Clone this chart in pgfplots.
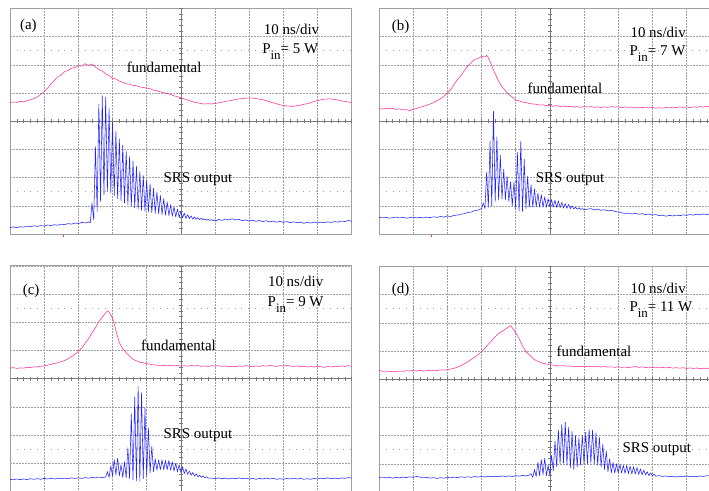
\documentclass[border=0pt]{standalone}
\usepackage{pgfplots}
\pgfplotsset{compat=1.18}
\usepackage{fontspec}
\setmainfont{Liberation Serif}
\definecolor{trpink}{RGB}{255,45,150}
\definecolor{trblue}{RGB}{35,35,255}
\definecolor{gridc}{RGB}{160,160,160}
\definecolor{cgrid}{RGB}{120,120,120}
\tikzset{cline/.style={cgrid, line width=0.6pt},
  sparse/.style={gridc, line width=0.8pt, dash pattern=on 0.8pt off 6.03pt},
  lab/.style={font=\fontsize{15}{18}\selectfont, inner sep=0pt}}
\pgfplotsset{osc/.style={anchor=south west, width=341.7bp, height=225.6bp, scale only axis,
  xmin=0, xmax=10, ymin=-4, ymax=4, xtick={0,...,10}, ytick={-4,...,4},
  xticklabel=\empty, yticklabel=\empty, major tick length=0pt,
  grid=major, major grid style={gridc, line width=0.5pt, dash pattern=on 0.7pt off 0.8pt},
  axis line style={gridc, line width=0.8pt}, clip=false,
  every axis plot/.append style={line width=0.55pt, line join=round}}}
\newcommand{\oscgrid}{%
  \draw[sparse] (axis cs:0,2.5) -- (axis cs:10,2.5);
  \draw[sparse] (axis cs:0,-2.5) -- (axis cs:10,-2.5);
  \draw[cline] (axis cs:0,0) -- (axis cs:10,0);
  \draw[cline] (axis cs:5,-4) -- (axis cs:5,4);
  \pgfplotsinvokeforeach{0.2,0.4,...,9.9}{\draw[cline] (axis cs:##1,-0.07) -- (axis cs:##1,0.07);}
  \pgfplotsinvokeforeach{-3.8,-3.6,...,3.9}{\draw[cline] (axis cs:4.94,##1) -- (axis cs:5.06,##1);}
}
\newcommand{\pin}[1]{P\raisebox{-6bp}{\fontsize{13}{13}\selectfont in}= #1 W}
\begin{document}
\begin{tikzpicture}
\useasboundingbox (0,0) rectangle (709bp,491bp);
\clip (0,0) rectangle (709bp,491bp);
% ---------------- (a)
\begin{axis}[osc, at={(10bp,257bp)}]
\oscgrid
\addplot[trpink] coordinates {(0.0,0.66) (0.1,0.68) (0.2,0.67) (0.3,0.70) (0.4,0.69) (0.5,0.73) (0.6,0.76) (0.7,0.80) (0.8,0.86) (0.9,0.95) (1.0,1.05) (1.1,1.17) (1.2,1.33) (1.3,1.45) (1.4,1.58) (1.5,1.64) (1.6,1.76) (1.7,1.80) (1.8,1.88) (1.9,1.91) (2.0,1.97) (2.1,1.95) (2.2,2.04) (2.3,1.98) (2.4,2.03) (2.5,1.92) (2.6,1.83) (2.7,1.78) (2.8,1.68) (2.9,1.62) (3.0,1.52) (3.1,1.50) (3.2,1.42) (3.3,1.38) (3.4,1.33) (3.5,1.31) (3.6,1.27) (3.7,1.26) (3.8,1.21) (3.9,1.20) (4.0,1.17) (4.1,1.15) (4.2,1.10) (4.3,1.08) (4.4,1.04) (4.5,1.01) (4.6,0.98) (4.7,0.95) (4.8,0.90) (4.9,0.87) (5.0,0.83) (5.1,0.79) (5.2,0.75) (5.3,0.71) (5.4,0.67) (5.5,0.65) (5.6,0.62) (5.7,0.61) (5.8,0.62) (5.9,0.61) (6.0,0.63) (6.1,0.65) (6.2,0.67) (6.3,0.70) (6.4,0.72) (6.5,0.74) (6.6,0.77) (6.7,0.79) (6.8,0.80) (6.9,0.82) (7.0,0.82) (7.1,0.82) (7.2,0.80) (7.3,0.78) (7.4,0.76) (7.5,0.73) (7.6,0.69) (7.7,0.65) (7.8,0.62) (7.9,0.58) (8.0,0.56) (8.1,0.54) (8.2,0.53) (8.3,0.53) (8.4,0.55) (8.5,0.57) (8.6,0.60) (8.7,0.62) (8.8,0.66) (8.9,0.70) (9.0,0.73) (9.1,0.76) (9.2,0.78) (9.3,0.79) (9.4,0.79) (9.5,0.77) (9.6,0.75) (9.7,0.72) (9.8,0.70) (9.9,0.68) (10.0,0.66)};
\addplot[trblue] coordinates {(0.0,-3.77) (0.1,-3.75) (0.2,-3.78) (0.3,-3.74) (0.4,-3.76) (0.5,-3.72) (0.6,-3.74) (0.7,-3.71) (0.8,-3.73) (0.9,-3.70) (1.0,-3.72) (1.1,-3.68) (1.2,-3.70) (1.3,-3.67) (1.4,-3.69) (1.5,-3.65) (1.6,-3.67) (1.7,-3.63) (1.8,-3.65) (1.9,-3.61) (2.0,-3.63) (2.1,-3.59) (2.2,-3.61) (2.3,-3.57) (2.35,-3.60)
(2.40,-2.9) (2.45,-3.5) (2.50,-0.9) (2.55,-3.2) (2.60,0.6) (2.65,-2.85) (2.70,0.9) (2.75,-2.6) (2.80,0.85) (2.85,-2.5) (2.90,0.45) (2.95,-2.55) (3.00,-0.05) (3.05,-2.65) (3.10,-0.35) (3.15,-2.75) (3.20,-0.62) (3.25,-2.82) (3.30,-0.85) (3.35,-2.9) (3.40,-1.05) (3.45,-2.96) (3.50,-1.25) (3.55,-3.02) (3.60,-1.42) (3.65,-3.07) (3.70,-1.6) (3.75,-3.12) (3.80,-1.78) (3.85,-3.16) (3.90,-1.93) (3.95,-3.19) (4.00,-2.08) (4.05,-3.22) (4.10,-2.22) (4.15,-3.25) (4.20,-2.38) (4.25,-3.27) (4.30,-2.5) (4.35,-3.29) (4.40,-2.63) (4.45,-3.31) (4.50,-2.75) (4.55,-3.33) (4.60,-2.86) (4.65,-3.35) (4.70,-2.96) (4.75,-3.37) (4.80,-3.04) (4.85,-3.39) (4.90,-3.12) (4.95,-3.41) (5.00,-3.2) (5.05,-3.43) (5.10,-3.26) (5.15,-3.45) (5.20,-3.31) (5.25,-3.46) (5.30,-3.36) (5.35,-3.47) (5.40,-3.39) (5.45,-3.48) (5.50,-3.42) (5.55,-3.49) (5.60,-3.44) (5.65,-3.5) (5.70,-3.46) (5.75,-3.51) (5.80,-3.48) (5.85,-3.52) (5.90,-3.49) (5.95,-3.53) (6.00,-3.5) (6.05,-3.54)
(6.1,-3.48) (6.2,-3.52) (6.3,-3.47) (6.4,-3.5) (6.5,-3.46) (6.6,-3.5) (6.7,-3.48) (6.8,-3.53) (6.9,-3.5) (7.0,-3.54) (7.1,-3.51) (7.2,-3.55) (7.3,-3.52) (7.4,-3.56) (7.5,-3.53) (7.6,-3.57) (7.7,-3.54) (7.8,-3.58) (7.9,-3.55) (8.0,-3.59) (8.1,-3.56) (8.2,-3.6) (8.3,-3.57) (8.4,-3.6) (8.5,-3.58) (8.6,-3.62) (8.7,-3.59) (8.8,-3.61) (8.9,-3.58) (9.0,-3.61) (9.1,-3.58) (9.2,-3.6) (9.3,-3.57) (9.4,-3.59) (9.5,-3.56) (9.6,-3.58) (9.7,-3.54) (9.8,-3.56) (9.9,-3.52) (10.0,-3.55)};
\addplot[trpink, line width=0.9pt] coordinates {(1.56,-4.03) (1.56,-4.12)};
\node[lab, anchor=base west] at (axis cs:0.29,3.24) {(a)};
\node[lab, anchor=base] at (axis cs:8.24,3.07) {10 ns/div};
\node[lab, anchor=base] at (axis cs:8.2,2.41) {\pin{5}};
\node[lab, anchor=base] at (axis cs:4.51,1.71) {fundamental};
\node[lab, anchor=base] at (axis cs:5.5,-2.19) {SRS output};
\end{axis}
% ---------------- (b)
\begin{axis}[osc, at={(379bp,257bp)}]
\oscgrid
\addplot[trpink] coordinates {(0.0,0.45) (0.1,0.43) (0.2,0.46) (0.3,0.44) (0.4,0.45) (0.5,0.42) (0.6,0.44) (0.7,0.40) (0.8,0.41) (0.9,0.37) (1.0,0.42) (1.1,0.45) (1.2,0.50) (1.3,0.52) (1.4,0.57) (1.5,0.61) (1.6,0.66) (1.7,0.73) (1.8,0.80) (1.9,0.88) (2.0,1.00) (2.1,1.12) (2.2,1.32) (2.3,1.48) (2.4,1.62) (2.5,1.80) (2.6,1.96) (2.7,2.08) (2.8,2.20) (2.9,2.22) (3.0,2.30) (3.1,2.27) (3.15,2.34) (3.2,2.25) (3.3,1.97) (3.4,1.68) (3.5,1.42) (3.6,1.22) (3.7,1.08) (3.8,0.94) (3.9,0.86) (4.0,0.75) (4.1,0.72) (4.2,0.68) (4.3,0.66) (4.4,0.63) (4.5,0.61) (4.6,0.60) (4.7,0.57) (4.8,0.58) (4.9,0.55) (5.0,0.56) (5.1,0.53) (5.2,0.55) (5.3,0.52) (5.4,0.54) (5.5,0.51) (5.6,0.53) (5.7,0.50) (5.8,0.52) (5.9,0.49) (6.0,0.52) (6.1,0.50) (6.2,0.52) (6.3,0.49) (6.4,0.51) (6.5,0.48) (6.6,0.51) (6.7,0.49) (6.8,0.52) (6.9,0.50) (7.0,0.51) (7.1,0.48) (7.2,0.51) (7.3,0.49) (7.4,0.50) (7.5,0.47) (7.6,0.50) (7.7,0.48) (7.8,0.50) (7.9,0.47) (8.0,0.49) (8.1,0.46) (8.2,0.48) (8.3,0.46) (8.4,0.49) (8.5,0.47) (8.6,0.50) (8.7,0.48) (8.8,0.51) (8.9,0.49) (9.0,0.51) (9.1,0.48) (9.2,0.51) (9.3,0.49) (9.4,0.52) (9.5,0.50) (9.6,0.53) (9.7,0.51) (9.8,0.52) (9.9,0.50) (10.0,0.51)};
\addplot[trblue] coordinates {(0.0,-3.40) (0.1,-3.43) (0.2,-3.41) (0.3,-3.44) (0.4,-3.42) (0.5,-3.40) (0.6,-3.43) (0.7,-3.41) (0.8,-3.44) (0.9,-3.42) (1.0,-3.40) (1.1,-3.43) (1.2,-3.41) (1.3,-3.43) (1.4,-3.40) (1.5,-3.42) (1.6,-3.39) (1.7,-3.41) (1.8,-3.38) (1.9,-3.40) (2.0,-3.36) (2.1,-3.38) (2.2,-3.34) (2.3,-3.33) (2.4,-3.30) (2.5,-3.28) (2.6,-3.24) (2.7,-3.22) (2.8,-3.17) (2.9,-3.15) (3.0,-3.10)
(3.05,-2.9) (3.10,-3.1) (3.15,-1.8) (3.20,-3.05) (3.25,-0.7) (3.30,-3.0) (3.35,0.35) (3.40,-2.85) (3.45,-0.55) (3.50,-2.8) (3.55,-1.2) (3.60,-2.76) (3.65,-1.7) (3.70,-2.78) (3.75,-1.95) (3.80,-2.85) (3.85,-2.15) (3.90,-3.0) (3.95,-2.15) (4.00,-3.1) (4.05,-1.1) (4.10,-3.2) (4.15,-0.7) (4.20,-3.2) (4.25,-1.35) (4.30,-3.1) (4.35,-1.95) (4.40,-3.05) (4.45,-2.25) (4.50,-3.05) (4.55,-2.4) (4.60,-3.05) (4.65,-2.55) (4.70,-3.05) (4.75,-2.6) (4.80,-3.05) (4.85,-2.68) (4.90,-3.05) (4.95,-2.75) (5.00,-3.03) (5.05,-2.78) (5.10,-3.05) (5.15,-2.8) (5.20,-3.06) (5.25,-2.82) (5.30,-3.07) (5.35,-2.88) (5.40,-3.08) (5.45,-2.92) (5.50,-3.09) (5.55,-2.95) (5.60,-3.1) (5.65,-3.0) (5.70,-3.11) (5.75,-3.05) (5.80,-3.12) (5.85,-3.07) (5.90,-3.13) (5.95,-3.1) (6.00,-3.14)
(6.1,-3.12) (6.2,-3.1) (6.3,-3.14) (6.4,-3.12) (6.5,-3.16) (6.6,-3.14) (6.7,-3.18) (6.8,-3.16) (6.9,-3.2) (7.0,-3.22) (7.1,-3.25) (7.2,-3.27) (7.3,-3.26) (7.4,-3.29) (7.5,-3.27) (7.6,-3.30) (7.7,-3.28) (7.8,-3.31) (7.9,-3.29) (8.0,-3.33) (8.1,-3.31) (8.2,-3.35) (8.3,-3.33) (8.4,-3.37) (8.5,-3.34) (8.6,-3.36) (8.7,-3.33) (8.8,-3.35) (8.9,-3.32) (9.0,-3.34) (9.1,-3.31) (9.2,-3.33) (9.3,-3.30) (9.4,-3.32) (9.5,-3.29) (9.6,-3.31) (9.7,-3.28) (9.8,-3.30) (9.9,-3.28) (10.0,-3.29)};
\addplot[trpink, line width=0.9pt] coordinates {(1.54,-4.03) (1.54,-4.12)};
\node[lab, anchor=base west] at (axis cs:0.37,3.21) {(b)};
\node[lab, anchor=base] at (axis cs:8.17,2.98) {10 ns/div};
\node[lab, anchor=base] at (axis cs:8.15,2.33) {\pin{7}};
\node[lab, anchor=base] at (axis cs:5.44,0.97) {fundamental};
\node[lab, anchor=base] at (axis cs:5.59,-2.19) {SRS output};
\end{axis}
% ---------------- (c)
\begin{axis}[osc, at={(10bp,-0.4bp)}]
\oscgrid
\addplot[trpink] coordinates {(0.0,0.37) (0.1,0.39) (0.2,0.36) (0.3,0.38) (0.4,0.37) (0.5,0.40) (0.6,0.39) (0.7,0.42) (0.8,0.41) (0.9,0.44) (1.0,0.45) (1.1,0.48) (1.2,0.50) (1.3,0.54) (1.4,0.56) (1.5,0.60) (1.6,0.64) (1.7,0.70) (1.8,0.78) (1.9,0.86) (2.0,0.97) (2.1,1.08) (2.2,1.25) (2.3,1.42) (2.4,1.62) (2.5,1.80) (2.6,2.02) (2.7,2.18) (2.8,2.33) (2.85,2.40) (2.9,2.36) (3.0,2.15) (3.05,1.95) (3.1,1.70) (3.15,1.48) (3.2,1.28) (3.3,1.06) (3.4,0.92) (3.5,0.80) (3.6,0.68) (3.7,0.63) (3.8,0.58) (3.9,0.56) (4.0,0.53) (4.1,0.51) (4.2,0.49) (4.3,0.48) (4.4,0.46) (4.5,0.47) (4.6,0.45) (4.7,0.47) (4.8,0.45) (4.9,0.47) (5.0,0.44) (5.1,0.46) (5.2,0.44) (5.3,0.47) (5.4,0.45) (5.5,0.46) (5.6,0.43) (5.7,0.45) (5.8,0.43) (5.9,0.46) (6.0,0.44) (6.1,0.46) (6.2,0.43) (6.3,0.45) (6.4,0.42) (6.5,0.44) (6.6,0.42) (6.7,0.45) (6.8,0.43) (6.9,0.46) (7.0,0.44) (7.1,0.42) (7.2,0.45) (7.3,0.43) (7.4,0.46) (7.5,0.44) (7.6,0.47) (7.7,0.45) (7.8,0.43) (7.9,0.46) (8.0,0.44) (8.1,0.47) (8.2,0.45) (8.3,0.43) (8.4,0.45) (8.5,0.42) (8.6,0.44) (8.7,0.41) (8.8,0.43) (8.9,0.41) (9.0,0.44) (9.1,0.42) (9.2,0.40) (9.3,0.43) (9.4,0.41) (9.5,0.44) (9.6,0.42) (9.7,0.45) (9.8,0.43) (9.9,0.46) (10.0,0.44)};
\addplot[trblue] coordinates {(0.0,-3.57) (0.1,-3.59) (0.2,-3.56) (0.3,-3.58) (0.4,-3.56) (0.5,-3.58) (0.6,-3.55) (0.7,-3.57) (0.8,-3.55) (0.9,-3.57) (1.0,-3.54) (1.1,-3.56) (1.2,-3.54) (1.3,-3.56) (1.4,-3.53) (1.5,-3.55) (1.6,-3.53) (1.7,-3.55) (1.8,-3.52) (1.9,-3.54) (2.0,-3.52) (2.1,-3.54) (2.2,-3.51) (2.3,-3.53) (2.4,-3.50) (2.5,-3.52) (2.6,-3.49) (2.7,-3.51) (2.8,-3.49)
(2.85,-3.3) (2.90,-3.5) (2.95,-3.1) (3.00,-3.45) (3.05,-2.87) (3.10,-3.42) (3.15,-2.82) (3.20,-3.45) (3.25,-3.05) (3.30,-3.5) (3.35,-2.95) (3.40,-3.52) (3.45,-2.45) (3.50,-3.55) (3.55,-1.25) (3.60,-3.6) (3.65,-0.65) (3.70,-3.62) (3.75,-0.28) (3.80,-3.65) (3.85,-0.5) (3.90,-3.55) (3.95,-1.05) (4.00,-3.45) (4.05,-1.75) (4.10,-3.35) (4.15,-2.4) (4.20,-3.3) (4.25,-2.85) (4.30,-3.25) (4.35,-2.88) (4.40,-3.23) (4.45,-2.88) (4.50,-3.23) (4.55,-2.9) (4.60,-3.23) (4.65,-2.9) (4.70,-3.25) (4.75,-2.95) (4.80,-3.28) (4.85,-3.0) (4.90,-3.3) (4.95,-3.05) (5.00,-3.33) (5.05,-3.12) (5.10,-3.37) (5.15,-3.2) (5.20,-3.4) (5.25,-3.28) (5.30,-3.43) (5.35,-3.33) (5.40,-3.46) (5.45,-3.38) (5.50,-3.48) (5.55,-3.42) (5.60,-3.5) (5.65,-3.45) (5.70,-3.52) (5.75,-3.48) (5.80,-3.53)
(5.9,-3.53) (6.0,-3.55) (6.1,-3.52) (6.2,-3.55) (6.3,-3.53) (6.4,-3.56) (6.5,-3.53) (6.6,-3.55) (6.7,-3.52) (6.8,-3.55) (6.9,-3.53) (7.0,-3.56) (7.1,-3.54) (7.2,-3.57) (7.3,-3.54) (7.4,-3.56) (7.5,-3.53) (7.6,-3.56) (7.7,-3.54) (7.8,-3.57) (7.9,-3.55) (8.0,-3.57) (8.1,-3.54) (8.2,-3.56) (8.3,-3.53) (8.4,-3.56) (8.5,-3.54) (8.6,-3.57) (8.7,-3.55) (8.8,-3.57) (8.9,-3.54) (9.0,-3.56) (9.1,-3.53) (9.2,-3.55) (9.3,-3.52) (9.4,-3.55) (9.5,-3.53) (9.6,-3.55) (9.7,-3.52) (9.8,-3.54) (9.9,-3.51) (10.0,-3.53)};
\node[lab, anchor=base west] at (axis cs:0.37,2.98) {(c)};
\node[lab, anchor=base] at (axis cs:8.36,3.25) {10 ns/div};
\node[lab, anchor=base] at (axis cs:8.36,2.57) {\pin{9}};
\node[lab, anchor=base] at (axis cs:4.93,1.0) {fundamental};
\node[lab, anchor=base] at (axis cs:5.5,-2.13) {SRS output};
\end{axis}
% ---------------- (d)
\begin{axis}[osc, at={(379bp,-1bp)}]
\oscgrid
\addplot[trpink] coordinates {(0.0,0.32) (0.1,0.28) (0.2,0.29) (0.3,0.27) (0.4,0.28) (0.5,0.26) (0.6,0.29) (0.7,0.28) (0.8,0.30) (0.9,0.29) (1.0,0.31) (1.1,0.29) (1.2,0.31) (1.3,0.29) (1.4,0.30) (1.5,0.32) (1.6,0.30) (1.7,0.31) (1.8,0.33) (1.9,0.32) (2.0,0.34) (2.1,0.36) (2.2,0.39) (2.3,0.43) (2.4,0.48) (2.5,0.55) (2.6,0.62) (2.7,0.70) (2.8,0.78) (2.9,0.87) (3.0,0.98) (3.1,1.10) (3.2,1.24) (3.3,1.37) (3.4,1.50) (3.5,1.62) (3.6,1.70) (3.7,1.78) (3.8,1.86) (3.85,1.90) (3.9,1.82) (4.0,1.65) (4.1,1.44) (4.2,1.18) (4.3,0.98) (4.4,0.86) (4.5,0.74) (4.6,0.66) (4.7,0.61) (4.8,0.56) (4.9,0.54) (5.0,0.51) (5.1,0.50) (5.2,0.48) (5.3,0.47) (5.4,0.48) (5.5,0.46) (5.6,0.47) (5.7,0.45) (5.8,0.46) (5.9,0.44) (6.0,0.46) (6.1,0.44) (6.2,0.46) (6.3,0.44) (6.4,0.45) (6.5,0.43) (6.6,0.45) (6.7,0.43) (6.8,0.44) (6.9,0.42) (7.0,0.44) (7.1,0.42) (7.2,0.43) (7.3,0.41) (7.4,0.43) (7.5,0.45) (7.6,0.42) (7.7,0.44) (7.8,0.41) (7.9,0.43) (8.0,0.41) (8.1,0.43) (8.2,0.40) (8.3,0.42) (8.4,0.40) (8.5,0.42) (8.6,0.39) (8.7,0.41) (8.8,0.39) (8.9,0.41) (9.0,0.38) (9.1,0.40) (9.2,0.38) (9.3,0.40) (9.4,0.37) (9.5,0.39) (9.6,0.38) (9.7,0.40) (9.8,0.38) (9.9,0.39) (10.0,0.38)};
\addplot[trblue] coordinates {(0.0,-3.49) (0.1,-3.47) (0.2,-3.50) (0.3,-3.48) (0.4,-3.51) (0.5,-3.48) (0.6,-3.50) (0.7,-3.47) (0.8,-3.49) (0.9,-3.46) (1.0,-3.48) (1.1,-3.45) (1.2,-3.47) (1.3,-3.50) (1.4,-3.48) (1.5,-3.51) (1.6,-3.49) (1.7,-3.52) (1.8,-3.49) (1.9,-3.51) (2.0,-3.48) (2.1,-3.50) (2.2,-3.47) (2.3,-3.49) (2.4,-3.46) (2.5,-3.48) (2.6,-3.46) (2.7,-3.48) (2.8,-3.45) (2.9,-3.47) (3.0,-3.45) (3.1,-3.47) (3.2,-3.44) (3.3,-3.46) (3.4,-3.44) (3.5,-3.46) (3.6,-3.43) (3.7,-3.45) (3.8,-3.43) (3.9,-3.45) (4.0,-3.42) (4.1,-3.44) (4.2,-3.41) (4.3,-3.43) (4.4,-3.40)
(4.45,-3.35) (4.50,-3.48) (4.55,-3.2) (4.60,-3.45) (4.65,-2.95) (4.70,-3.42) (4.75,-2.85) (4.80,-3.38) (4.85,-2.8) (4.90,-3.42) (4.95,-3.05) (5.00,-3.4) (5.05,-2.7) (5.10,-3.25) (5.15,-2.2) (5.20,-3.1) (5.25,-1.8) (5.30,-3.0) (5.35,-1.6) (5.40,-2.98) (5.45,-1.52) (5.50,-3.05) (5.55,-1.7) (5.60,-3.15) (5.65,-1.85) (5.70,-3.2) (5.75,-2.0) (5.80,-3.12) (5.85,-2.08) (5.90,-3.05) (5.95,-1.98) (6.00,-3.02) (6.05,-1.88) (6.10,-3.0) (6.15,-1.78) (6.20,-2.98) (6.25,-1.8) (6.30,-3.0) (6.35,-1.9) (6.40,-3.05) (6.45,-2.05) (6.50,-3.12) (6.55,-2.3) (6.60,-3.2) (6.65,-2.55) (6.70,-3.28) (6.75,-2.82) (6.80,-3.32) (6.85,-2.95) (6.90,-3.33) (6.95,-3.0) (7.00,-3.33) (7.05,-3.02) (7.10,-3.33) (7.15,-3.05) (7.20,-3.34) (7.25,-3.06) (7.30,-3.35) (7.35,-3.08) (7.40,-3.36) (7.45,-3.1) (7.50,-3.37) (7.55,-3.13) (7.60,-3.38) (7.65,-3.18) (7.70,-3.39) (7.75,-3.22) (7.80,-3.4) (7.85,-3.28) (7.90,-3.42) (7.95,-3.32) (8.00,-3.43) (8.05,-3.36) (8.10,-3.44)
(8.2,-3.42) (8.3,-3.45) (8.4,-3.43) (8.5,-3.46) (8.6,-3.44) (8.7,-3.47) (8.8,-3.44) (8.9,-3.46) (9.0,-3.43) (9.1,-3.46) (9.2,-3.44) (9.3,-3.46) (9.4,-3.43) (9.5,-3.45) (9.6,-3.42) (9.7,-3.44) (9.8,-3.42) (9.9,-3.44) (10.0,-3.43)};
\node[lab, anchor=base west] at (axis cs:0.37,3.04) {(d)};
\node[lab, anchor=base] at (axis cs:8.17,3.04) {10 ns/div};
\node[lab, anchor=base] at (axis cs:8.25,2.39) {\pin{11}};
\node[lab, anchor=base] at (axis cs:6.29,0.8) {fundamental};
\node[lab, anchor=base] at (axis cs:8.13,-2.6) {SRS output};
\end{axis}
\end{tikzpicture}
\end{document}
